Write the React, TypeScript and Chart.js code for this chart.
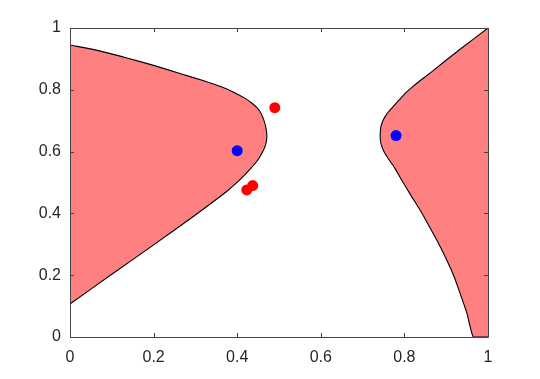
import { useEffect, useRef } from "react";
import { Chart, registerables } from "chart.js";

Chart.register(...registerables);

// Left filled region boundary (from top-left, round the tip, to bottom-left)
const leftBoundaryX = [0, 0.07, 0.136, 0.2, 0.263, 0.32, 0.365, 0.395, 0.418, 0.437, 0.453, 0.463, 0.469, 0.471, 0.468, 0.46, 0.449, 0.434, 0.417, 0.397, 0.374, 0.345, 0.295, 0.2, 0.1, 0];
const leftBoundaryY = [0.945, 0.926, 0.903, 0.879, 0.853, 0.829, 0.808, 0.79, 0.773, 0.755, 0.733, 0.705, 0.675, 0.648, 0.622, 0.597, 0.572, 0.548, 0.523, 0.497, 0.47, 0.44, 0.39, 0.298, 0.203, 0.107];

// Right filled region boundary (from top-right corner, round the tip, to bottom, then bottom-right corner)
const rightBoundaryX = [1, 0.93, 0.865, 0.838, 0.818, 0.803, 0.788, 0.774, 0.762, 0.754, 0.748, 0.744, 0.742, 0.743, 0.746, 0.751, 0.758, 0.766, 0.776, 0.793, 0.817, 0.836, 0.853, 0.878, 0.901, 0.918, 0.933, 0.95, 0.965, 1];
const rightBoundaryY = [1, 0.928, 0.858, 0.83, 0.808, 0.79, 0.768, 0.747, 0.729, 0.714, 0.698, 0.682, 0.655, 0.632, 0.617, 0.6, 0.584, 0.568, 0.549, 0.509, 0.455, 0.414, 0.374, 0.312, 0.25, 0.198, 0.142, 0.075, 0, 0];

// Blue points
const blueX = [0.4, 0.78];
const blueY = [0.603, 0.652];

// Red points
const redX = [0.49, 0.423, 0.437];
const redY = [0.742, 0.476, 0.49];

const tickValues = [0, 0.2, 0.4, 0.6, 0.8, 1];

const zip = (xs: number[], ys: number[]) => xs.map((x, i) => ({ x, y: ys[i] }));

const AXIS_COLOR = "#444444";
const TEXT_COLOR = "#262626";
const FONT = "'Liberation Sans', Arial, Helvetica, sans-serif";

const boxPlugin = {
  id: "octaveBox",
  afterDraw(chart: any) {
    const { ctx, chartArea, scales } = chart;
    const { left, right, top, bottom } = chartArea;
    const tl = 4;
    ctx.save();
    ctx.strokeStyle = AXIS_COLOR;
    ctx.lineWidth = 1;
    ctx.beginPath();
    ctx.rect(Math.round(left) + 0.5, Math.round(top) + 0.5, Math.round(right - left), Math.round(bottom - top));
    ctx.stroke();
    ctx.beginPath();
    for (const v of tickValues) {
      const px = Math.round(scales.x.getPixelForValue(v)) + 0.5;
      ctx.moveTo(px, bottom);
      ctx.lineTo(px, bottom - tl);
      ctx.moveTo(px, top);
      ctx.lineTo(px, top + tl);
      const py = Math.round(scales.y.getPixelForValue(v)) + 0.5;
      ctx.moveTo(left, py);
      ctx.lineTo(left + tl, py);
      ctx.moveTo(right, py);
      ctx.lineTo(right - tl, py);
    }
    ctx.stroke();
    ctx.restore();
  },
};

const fmt = (v: any) => String(Math.round(Number(v) * 10) / 10);

export default function App() {
  const ref = useRef<HTMLCanvasElement | null>(null);

  useEffect(() => {
    if (!ref.current) return;
    const chart = new Chart(ref.current, {
      type: "scatter",
      data: {
        datasets: [
          {
            label: "blue",
            data: zip(blueX, blueY),
            backgroundColor: "#0000ff",
            borderWidth: 0,
            pointRadius: 5.5,
            showLine: false,
          },
          {
            label: "red",
            data: zip(redX, redY),
            backgroundColor: "#ff0000",
            borderWidth: 0,
            pointRadius: 5.5,
            showLine: false,
          },
          {
            label: "left region",
            data: zip(leftBoundaryX, leftBoundaryY),
            showLine: true,
            fill: "shape",
            backgroundColor: "#ff8080",
            borderColor: "#000000",
            borderWidth: 1.1,
            pointRadius: 0,
            tension: 0.2,
          },
          {
            label: "right region",
            data: zip(rightBoundaryX, rightBoundaryY),
            showLine: true,
            fill: "shape",
            backgroundColor: "#ff8080",
            borderColor: "#000000",
            borderWidth: 1.1,
            pointRadius: 0,
            tension: 0.15,
          },
        ] as any,
      },
      options: {
        animation: false,
        responsive: true,
        maintainAspectRatio: false,
        layout: { padding: { top: 28, right: 52, left: 0, bottom: 0 } },
        plugins: {
          legend: { display: false },
          tooltip: { enabled: false },
        },
        scales: {
          x: {
            type: "linear",
            min: 0,
            max: 1,
            grid: { display: false, drawTicks: false },
            border: { display: false },
            ticks: {
              stepSize: 0.2,
              padding: 11,
              color: TEXT_COLOR,
              font: { family: FONT, size: 16 },
              maxRotation: 0,
              callback: fmt,
            },
            afterFit: (s: any) => {
              s.height = 42;
            },
          },
          y: {
            type: "linear",
            min: 0,
            max: 1,
            grid: { display: false, drawTicks: false },
            border: { display: false },
            ticks: {
              stepSize: 0.2,
              padding: 9,
              color: TEXT_COLOR,
              font: { family: FONT, size: 16 },
              callback: fmt,
            },
            afterFit: (s: any) => {
              s.width = 70;
            },
          },
        },
      },
      plugins: [boxPlugin],
    });
    return () => chart.destroy();
  }, []);

  return (
    <div style={{ position: "absolute", left: 0, top: 0, width: 540, height: 379, background: "#fff" }}>
      <canvas ref={ref} />
    </div>
  );
}
